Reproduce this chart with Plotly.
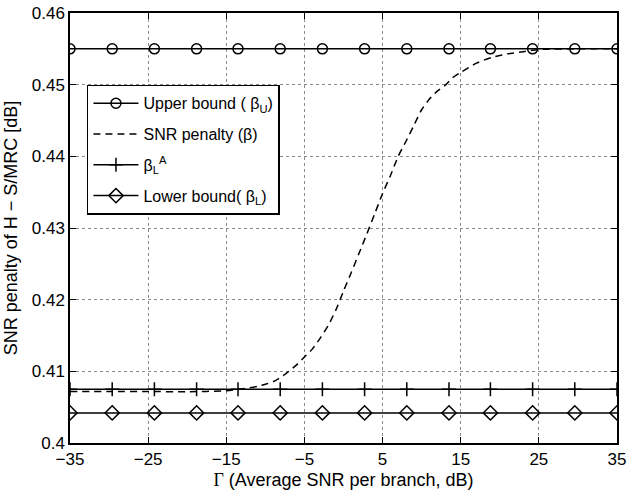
import plotly.graph_objects as go

# marker positions (dB) shared by the constant bounds
marker_x = [-35, -29.6, -24.2, -18.8, -13.5, -8.1, -2.7, 2.7, 8.1, 13.5, 18.8, 24.2, 29.6, 35]
upper_bound = [0.455] * 14
beta_LA = [0.4075] * 14
lower_bound = [0.4042] * 14

# SNR penalty curve
snr_x = [-35, -30, -25, -20, -15, -14, -12, -11, -10, -9, -8, -7, -6, -5, -4, -3, -2, -1, 0, 1, 2, 3, 4,
         5, 6, 7, 8, 9, 10, 11, 12, 13, 14, 15, 17, 19, 21, 23, 25, 30, 35]
snr_penalty = [0.4072, 0.4072, 0.40718, 0.40716, 0.40728, 0.4074, 0.4077, 0.4079, 0.4082, 0.40856,
               0.4092, 0.4100, 0.4109, 0.4120, 0.4131, 0.4146, 0.4163, 0.4185, 0.4212, 0.4238, 0.4265,
               0.4292, 0.4320, 0.4348, 0.4373, 0.4400, 0.4421, 0.4443, 0.4465, 0.4480, 0.4491, 0.4499,
               0.4510, 0.4517, 0.4530, 0.4538, 0.4543, 0.4546, 0.4549, 0.4550, 0.4550]

x_ticks = [-35, -25, -15, -5, 5, 15, 25, 35]
y_ticks = [0.4, 0.41, 0.42, 0.43, 0.44, 0.45, 0.46]
y_tick_labels = ["0.4", "0.41", "0.42", "0.43", "0.44", "0.45", "0.46"]

font_family = "Liberation Sans, Arial, sans-serif"

fig = go.Figure()
fig.add_trace(go.Scatter(
    x=marker_x, y=upper_bound, mode="lines+markers",
    name="Upper bound ( β<sub>U</sub>)", legendgroup="g1",
    line=dict(color="black", width=1.5),
    marker=dict(symbol="circle-open", size=10, color="black", line=dict(width=1.5)),
))
fig.add_trace(go.Scatter(
    x=snr_x, y=snr_penalty, mode="lines",
    name="SNR penalty (β)", legendgroup="g2",
    line=dict(color="black", width=1.5, dash="7px,5px", shape="spline", smoothing=0.6),
))
fig.add_trace(go.Scatter(
    x=marker_x, y=beta_LA, mode="lines+markers",
    name="β<sub>L</sub><sup>A</sup>", legendgroup="g3",
    line=dict(color="black", width=1.5),
    marker=dict(symbol="cross-thin-open", size=10, color="black", line=dict(width=1.5, color="black")),
))
fig.add_trace(go.Scatter(
    x=marker_x, y=lower_bound, mode="lines+markers",
    name="Lower bound( β<sub>L</sub>)", legendgroup="g4",
    line=dict(color="black", width=1.5),
    marker=dict(symbol="diamond-open", size=11, color="black", line=dict(width=1.5)),
))

axis_common = dict(
    showline=True, linecolor="black", linewidth=1.5, mirror="ticks",
    ticks="inside", ticklen=6, tickcolor="black", tickwidth=1,
    showgrid=True, gridcolor="#8a8a8a", griddash="dot", gridwidth=1,
    zeroline=False, automargin=False,
    tickfont=dict(size=17, color="black", family=font_family),
)

fig.update_xaxes(
    range=[-35, 35], tickvals=x_ticks,
    title=dict(text="<span style='font-family:Liberation Serif'>Γ</span> (Average SNR per branch, dB)",
               font=dict(size=18, color="black", family=font_family), standoff=5),
    **axis_common,
)
fig.update_yaxes(
    range=[0.4, 0.46], tickvals=y_ticks, ticktext=y_tick_labels,
    title=dict(text="SNR penalty of H − S/MRC [dB]",
               font=dict(size=18, color="black", family=font_family), standoff=9),
    **axis_common,
)

fig.update_layout(
    width=627, height=494,
    margin=dict(l=70, r=10, t=13, b=51),
    paper_bgcolor="white", plot_bgcolor="white",
    font=dict(family=font_family, color="black"),
    showlegend=True,
    legend=dict(
        x=0.031, y=0.833, xanchor="left", yanchor="top",
        bgcolor="white", bordercolor="black", borderwidth=1.5,
        font=dict(size=16, color="black", family=font_family),
        itemwidth=45, tracegroupgap=7, traceorder="grouped",
    ),
)

fig.write_html("out.html")
